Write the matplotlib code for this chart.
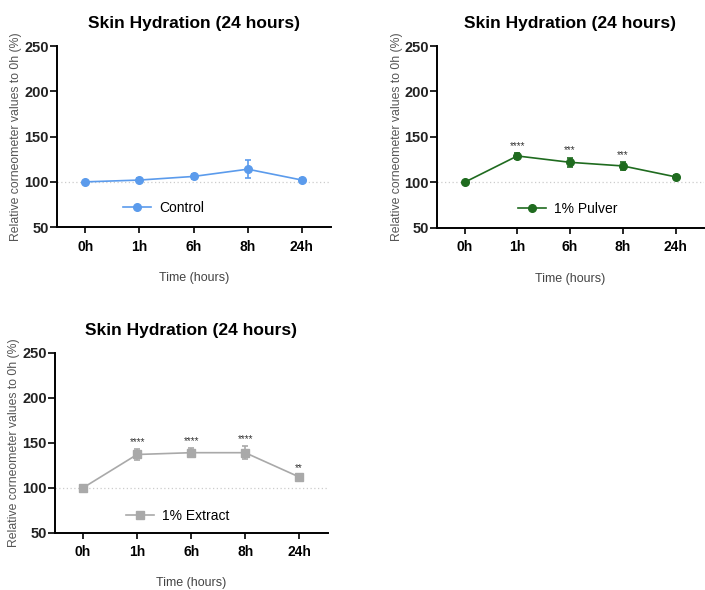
import numpy as np
import matplotlib
matplotlib.use("Agg")
import matplotlib.pyplot as plt
from matplotlib.lines import Line2D

plt.rcParams["font.family"] = ["Liberation Sans", "DejaVu Sans"]

# ==================== DATA ====================
time_labels = ["0h", "1h", "6h", "8h", "24h"]

control_mean = [100, 102, 106, 114, 102]
control_err = [1.5, 2, 3, 10, 2]
control_stars = ["", "", "", "", ""]

pulver_mean = [100, 129, 122, 118, 106]
pulver_err = [1, 3, 5, 4, 2]
pulver_stars = ["", "****", "***", "***", ""]

extract_mean = [100, 137, 139, 139, 112]
extract_err = [1, 6, 5, 7, 2]
extract_stars = ["", "****", "****", "****", "**"]


def draw_panel(ax, mean, err, stars, color, marker, label, legend_anchor):
    x = np.arange(len(time_labels))
    ax.axhline(100, color="#cccccc", lw=0.9, ls=(0, (1, 2)), zorder=0)
    ax.errorbar(
        x, mean, yerr=err, color=color, marker=marker, ms=5.5,
        lw=1.2, elinewidth=1.2, capsize=2.5, capthick=1.2,
    )
    for xi, m, e, s in zip(x, mean, err, stars):
        if s:
            ax.text(xi, m + e + 2.5, s, ha="center", va="bottom",
                    fontsize=7, color="#333333")
    ax.set_xlim(-0.52, 4.53)
    ax.set_ylim(50, 250)
    ax.set_yticks([50, 100, 150, 200, 250])
    ax.set_xticks(x)
    ax.set_xticklabels(time_labels, fontweight="bold", fontsize=10)
    for t in ax.get_yticklabels():
        t.set_fontsize(10.5)
        t.set_fontweight("bold")
        t.set_color("#222222")
    ax.spines["top"].set_visible(False)
    ax.spines["right"].set_visible(False)
    ax.spines["left"].set_linewidth(1.4)
    ax.spines["bottom"].set_linewidth(1.4)
    ax.tick_params(axis="y", width=1.2, length=5, pad=1)
    ax.tick_params(axis="x", width=1.2, length=4, pad=5)
    ax.set_title("Skin Hydration (24 hours)", fontsize=12.5, fontweight="bold", pad=13)
    ax.set_xlabel("Time (hours)", fontsize=9, color="#444444")
    ax.xaxis.set_label_coords(0.5, -0.28)
    ax.xaxis.label.set_va("center")
    ax.set_ylabel("Relative corneometer values to 0h (%)", fontsize=8.8,
                  color="#555555")
    ax.yaxis.set_label_coords(-0.15, 0.5)
    ax.yaxis.label.set_va("center")
    handle = Line2D([], [], color=color, marker=marker, ms=5.5, lw=1.2)
    ax.legend([handle], [label], loc="center", bbox_to_anchor=legend_anchor,
              frameon=False, fontsize=10, handlelength=2.0, handletextpad=0.6)


fig = plt.figure(figsize=(7.05, 5.9), dpi=100)
ax1 = fig.add_axes([0.081, 0.615, 0.388, 0.307])
ax2 = fig.add_axes([0.620, 0.614, 0.378, 0.308])
ax3 = fig.add_axes([0.078, 0.097, 0.387, 0.305])

draw_panel(ax1, control_mean, control_err, control_stars, "#5b9bec", "o", "Control", (0.39, 0.105))
draw_panel(ax2, pulver_mean, pulver_err, pulver_stars, "#1f6b1f", "o", "1% Pulver", (0.49, 0.105))
draw_panel(ax3, extract_mean, extract_err, extract_stars, "#a9a9a9", "s", "1% Extract", (0.45, 0.094))

fig.savefig("out.png", dpi=100)
